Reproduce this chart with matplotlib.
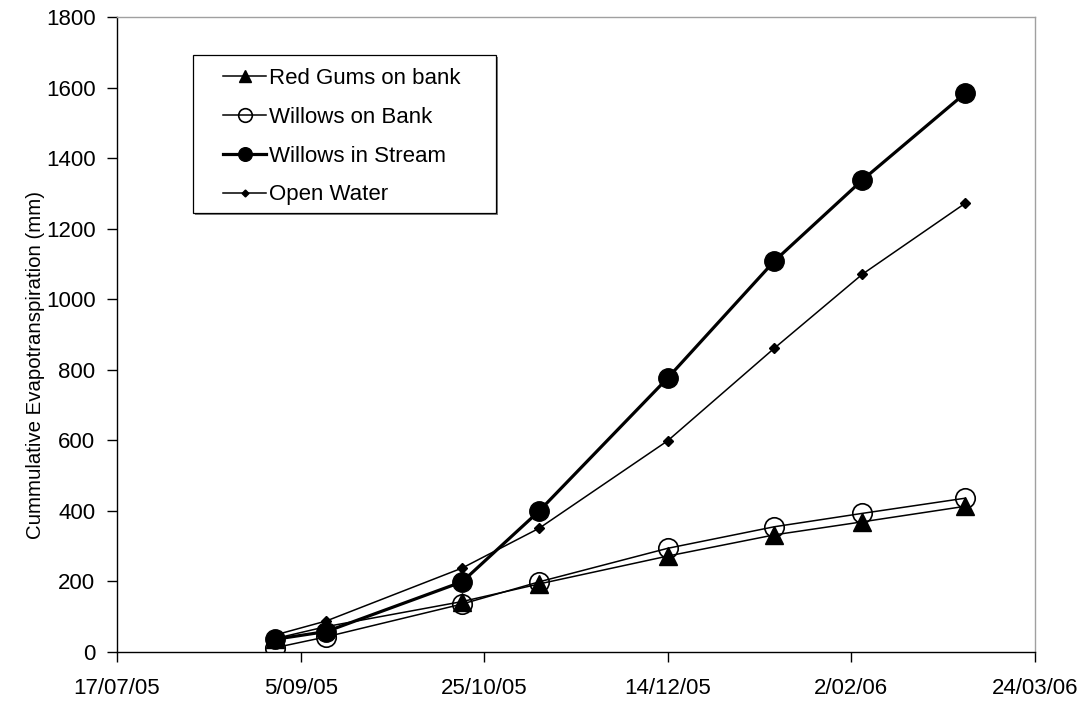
import matplotlib
matplotlib.use("Agg")
import matplotlib.pyplot as plt
import matplotlib.patches as mpatches
import pandas as pd

dates = ["29/08/05", "12/09/05", "19/10/05", "09/11/05", "14/12/05", "12/01/06", "05/02/06", "05/03/06"]
red_gums = [38, 72, 143, 193, 272, 332, 369, 413]
willows_bank = [12, 43, 136, 199, 294, 355, 393, 436]
willows_stream = [36, 58, 199, 400, 777, 1108, 1338, 1584]
open_water = [48, 88, 238, 351, 599, 861, 1071, 1272]
xtick_labels = ["17/07/05", "5/09/05", "25/10/05", "14/12/05", "2/02/06", "24/03/06"]
ytick_values = [0, 200, 400, 600, 800, 1000, 1200, 1400, 1600, 1800]

plt.rcParams['font.family'] = ['Liberation Sans', 'DejaVu Sans']

x = pd.to_datetime(dates, format="%d/%m/%y")
xt = pd.to_datetime(xtick_labels, format="%d/%m/%y")

W, H = 1090, 704
fig = plt.figure(figsize=(W / 100, H / 100), dpi=100)
ax = fig.add_axes([117 / W, 1 - 652 / H, (1035 - 117) / W, (652 - 17) / H])

ax.plot(x, red_gums, color='black', lw=1.1, marker='^', markersize=13,
        markerfacecolor='black', markeredgecolor='black', label='Red Gums on bank', zorder=3)
ax.plot(x, willows_bank, color='black', lw=1.1, marker='o', markersize=14,
        markerfacecolor='none', markeredgecolor='black', markeredgewidth=1.2,
        label='Willows on Bank', zorder=2)
ax.plot(x, willows_stream, color='black', lw=2.3, marker='o', markersize=14,
        markerfacecolor='black', markeredgecolor='black', label='Willows in Stream', zorder=4)
ax.plot(x, open_water, color='black', lw=1.1, marker='D', markersize=5,
        markerfacecolor='black', markeredgecolor='black', label='Open Water', zorder=3)

ax.set_xlim(xt[0], xt[-1])
ax.set_ylim(0, 1800)
ax.set_xticks(xt)
ax.set_xticklabels(xtick_labels)
ax.set_yticks(ytick_values)
ax.tick_params(axis='both', direction='out', length=7, width=1, labelsize=16, colors='black')
ax.tick_params(axis='x', pad=12)
ax.tick_params(axis='y', pad=8.5)
for s in ['left', 'bottom']:
    ax.spines[s].set_linewidth(1.0)
    ax.spines[s].set_color('black')
for s in ['top', 'right']:
    ax.spines[s].set_linewidth(1.0)
    ax.spines[s].set_color('#a0a0a0')
ax.set_ylabel('Cummulative Evapotranspiration (mm)', fontsize=14.7)
ax.yaxis.set_label_coords((45 - 117) / 918, (652 - 365) / 635)

# legend frame with shadow
lx0, lx1, ly0, ly1 = 193, 496, 55, 213
shadow = mpatches.Rectangle(((lx0 + 2) / W, 1 - (ly1 + 2) / H), (lx1 - lx0) / W, (ly1 - ly0) / H,
                            transform=fig.transFigure, facecolor='#808080', edgecolor='none', zorder=5)
frame = mpatches.Rectangle((lx0 / W, 1 - ly1 / H), (lx1 - lx0) / W, (ly1 - ly0) / H,
                           transform=fig.transFigure, facecolor='white', edgecolor='black',
                           linewidth=0.9, zorder=6)
fig.patches.extend([shadow, frame])

leg = fig.legend(*ax.get_legend_handles_labels(), loc='upper left',
                 bbox_to_anchor=(223 / W, 1 - 68 / H), bbox_transform=fig.transFigure,
                 fontsize=16, frameon=False, handlelength=1.95, handletextpad=0.12,
                 labelspacing=0.80, borderpad=0, borderaxespad=0, markerscale=0.7)
leg.set_zorder(7)

fig.savefig('out.png', dpi=100, facecolor='white')
